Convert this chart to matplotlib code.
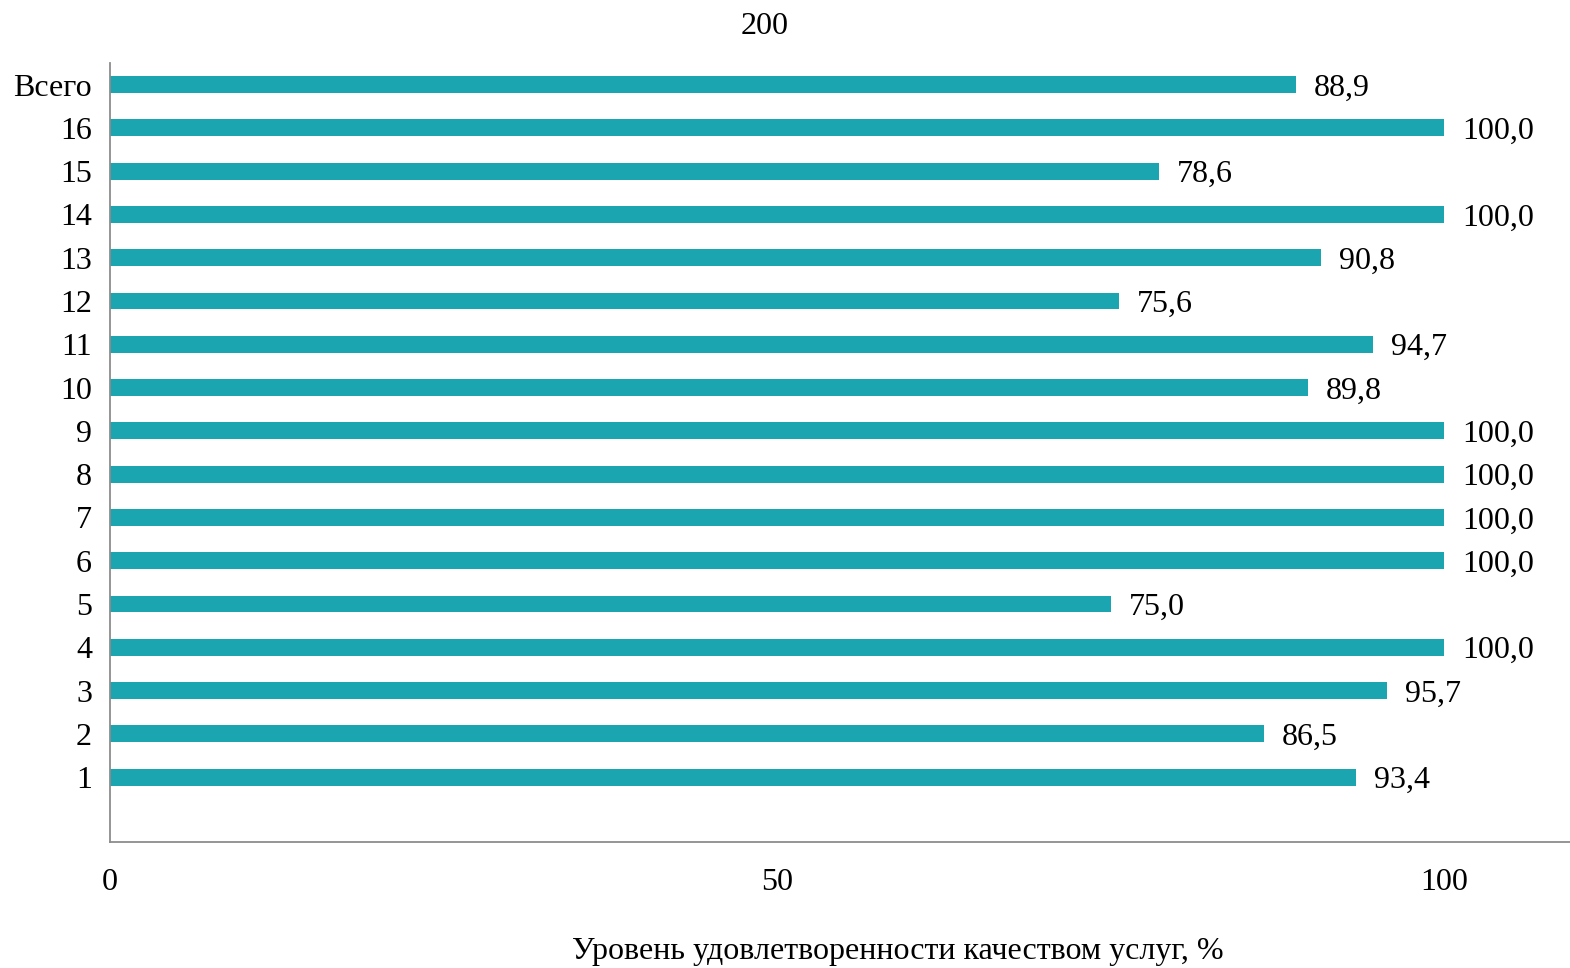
import matplotlib
matplotlib.use("Agg")
import matplotlib.pyplot as plt

# ---------- data
categories = ["1", "2", "3", "4", "5", "6", "7", "8", "9", "10",
              "11", "12", "13", "14", "15", "16", "Всего"]
values = [93.4, 86.5, 95.7, 100.0, 75.0, 100.0, 100.0, 100.0, 100.0, 89.8,
          94.7, 75.6, 90.8, 100.0, 78.6, 100.0, 88.9]
x_ticks = [0, 50, 100]

plt.rcParams["font.family"] = ["Liberation Serif", "DejaVu Serif"]
fs = 23

fig = plt.figure(figsize=(15.7, 9.68), dpi=100)
ax = fig.add_axes([110 / 1570, 1 - 842 / 968, 1460 / 1570, (842 - 63) / 968])

pos = list(range(len(categories)))
ax.barh(pos, values, height=0.39, color="#1BA5B0")
for p, v in zip(pos, values):
    ax.text(v + 1.35, p - 0.08, f"{v:.1f}".replace(".", ","),
            va="center", ha="left", fontsize=fs)

ax.set_xlim(0, 1460 / 13.34)
ax.set_ylim(-1.5, 16.5)
ax.set_yticks(pos)
ax.set_yticklabels(categories, fontsize=fs)
ax.set_xticks(x_ticks)
ax.set_xticklabels([str(t) for t in x_ticks], fontsize=fs)
ax.tick_params(axis="both", length=0)
ax.tick_params(axis="x", pad=19)
ax.tick_params(axis="y", pad=13)

for s in ["top", "right"]:
    ax.spines[s].set_visible(False)
for s in ["left", "bottom"]:
    ax.spines[s].set_color("#8C8C8C")
    ax.spines[s].set_linewidth(1.3)

fig.text(765 / 1570, 1 - 27 / 968, "200", ha="center", va="center", fontsize=fs)
fig.text(898 / 1570, 1 - 952 / 968, "Уровень удовлетворенности качеством услуг, %",
         ha="center", va="center", fontsize=fs)

fig.savefig("out.png", dpi=100)
